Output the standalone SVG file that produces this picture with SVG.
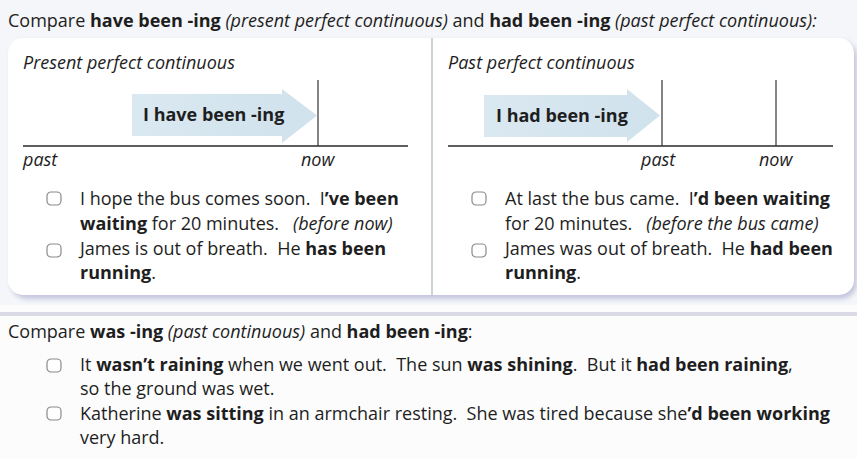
<svg xmlns="http://www.w3.org/2000/svg" width="857" height="458" viewBox="0 0 857 458">
<defs>
<style>
text{font-family:"Open Sans","Noto Sans","DejaVu Sans",sans-serif;font-size:18px;fill:#1e1e1e;white-space:pre}
.b{font-weight:bold}
.i{font-style:italic}
.tl{stroke:#2a2a2a;stroke-width:1.3}
.vl{stroke:#333;stroke-width:1.2}
.box{fill:#fff;stroke:#8a8a8a;stroke-width:1.2}
.arr{fill:url(#ag)}
</style>
<linearGradient id="ag" x1="0" x2="1" y1="0" y2="0">
<stop offset="0" stop-color="#dae8f1"/>
<stop offset="1" stop-color="#d0e2ec"/>
</linearGradient>
<filter id="sh" x="-5%" y="-10%" width="110%" height="130%">
<feGaussianBlur stdDeviation="2.5"/>
</filter>
<rect id="cb" width="14" height="13" rx="4"/>
</defs>
<rect width="857" height="458" fill="#fcfcfd"/>
<rect width="857" height="305" fill="#f5f6f9"/>
<rect x="0" y="312" width="857" height="4" fill="#d9dae6"/>
<g id="title">
<text x="8" y="27">Compare <tspan class="b">have been -ing</tspan> <tspan class="i">(present perfect continuous)</tspan> and <tspan class="b">had been -ing</tspan> <tspan class="i">(past perfect continuous):</tspan></text>
</g>
<g id="panel">
<rect x="11" y="41" width="846" height="258" rx="16" fill="#c4c5de" filter="url(#sh)"/>
<rect x="8" y="38" width="846" height="257" rx="15" fill="#fff"/>
<line x1="432" y1="38" x2="432" y2="295" stroke="#b9c6c6" stroke-width="1.5"/>
</g>
<g id="present-perfect">
<text class="i" x="23" y="69">Present perfect continuous</text>
<path class="arr" d="M132 94 H282 V89 L317 115.5 L282 143 V136 H132 Z"/>
<text class="b" x="143" y="121">I have been -ing</text>
<line class="tl" x1="23" y1="146" x2="408" y2="146"/>
<line class="vl" x1="318" y1="80" x2="318" y2="146"/>
<text class="i" x="23" y="166">past</text>
<text class="i" x="301" y="166">now</text>
</g>
<g id="past-perfect">
<text class="i" x="448" y="69">Past perfect continuous</text>
<path class="arr" d="M484 95 H627 V89 L660 115.5 L627 142 V137 H484 Z"/>
<text class="b" x="496" y="122">I had been -ing</text>
<line class="tl" x1="448" y1="146" x2="833" y2="146"/>
<line class="vl" x1="662" y1="80" x2="662" y2="146"/>
<line class="vl" x1="776" y1="80" x2="776" y2="146"/>
<text class="i" x="641" y="166">past</text>
<text class="i" x="759" y="166">now</text>
</g>
<g id="ex-left">
<use href="#cb" class="box" x="47" y="192"/>
<use href="#cb" class="box" x="47" y="244"/>
<text x="80" y="205">I hope the bus comes soon.  I<tspan class="b">’ve been</tspan></text>
<text x="80" y="230"><tspan class="b">waiting</tspan> for 20 minutes.   <tspan class="i">(before now)</tspan></text>
<text x="80" y="255">James is out of breath.  He <tspan class="b">has been</tspan></text>
<text x="80" y="279"><tspan class="b">running</tspan>.</text>
</g>
<g id="ex-right">
<use href="#cb" class="box" x="472" y="192"/>
<use href="#cb" class="box" x="472" y="244"/>
<text x="505" y="205">At last the bus came.  I<tspan class="b">’d been waiting</tspan></text>
<text x="505" y="230">for 20 minutes.   <tspan class="i">(before the bus came)</tspan></text>
<text x="505" y="255">James was out of breath.  He <tspan class="b">had been</tspan></text>
<text x="505" y="279"><tspan class="b">running</tspan>.</text>
</g>
<g id="compare2">
<text x="8" y="338">Compare <tspan class="b">was -ing</tspan> <tspan class="i">(past continuous)</tspan> and <tspan class="b">had been -ing</tspan>:</text>
<use href="#cb" class="box" x="47" y="359"/>
<use href="#cb" class="box" x="47" y="407"/>
<text x="80" y="371">It <tspan class="b">wasn’t raining</tspan> when we went out.  The sun <tspan class="b">was shining</tspan>.  But it <tspan class="b">had been raining</tspan>,</text>
<text x="80" y="395">so the ground was wet.</text>
<text x="80" y="420">Katherine <tspan class="b">was sitting</tspan> in an armchair resting.  She was tired because she<tspan class="b">’d been working</tspan></text>
<text x="80" y="444">very hard.</text>
</g>
</svg>
